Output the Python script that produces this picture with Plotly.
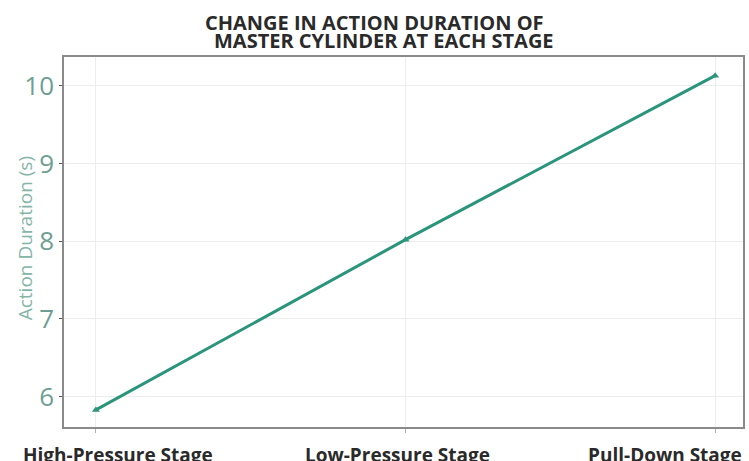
import plotly.graph_objects as go

stages = ["High-Pressure Stage", "Low-Pressure Stage", "Pull-Down Stage"]
durations = [5.83, 8.02, 10.13]
y_ticks = [6, 7, 8, 9, 10]
title_lines = ["CHANGE IN ACTION DURATION OF", "MASTER CYLINDER AT EACH STAGE"]
y_title = "Action Duration (s)"

# horizontal nudges of the category labels (pixels), as laid out in the reference
label_shifts = [22, -8, -50]

TEAL = "#2b957c"
fig = go.Figure()
fig.add_trace(go.Scatter(
    x=stages, y=durations, mode="lines+markers",
    line=dict(color=TEAL, width=3),
    marker=dict(symbol="triangle-up", size=7, color=TEAL),
    cliponaxis=False,
))

annotations = []
# title as two tightly spaced lines
annotations.append(dict(text=title_lines[0], xref="paper", yref="paper", x=0.457, y=1,
                        xanchor="center", yanchor="bottom", yshift=19, showarrow=False,
                        font=dict(family="Open Sans", size=20, color="#2a2a2a", weight="bold")))
annotations.append(dict(text=title_lines[1], xref="paper", yref="paper", x=0.472, y=1,
                        xanchor="center", yanchor="bottom", yshift=1, showarrow=False,
                        font=dict(family="Open Sans", size=20, color="#2a2a2a", weight="bold")))
for s, dx in zip(stages, label_shifts):
    annotations.append(dict(text=s, xref="x", yref="paper", x=s, y=0, xanchor="center",
                            yanchor="top", yshift=-13, xshift=dx, showarrow=False,
                            font=dict(family="Open Sans", size=19, color="#2a2a2a", weight="bold")))
annotations.append(dict(text=y_title, xref="paper", yref="paper", x=0, y=0.51,
                        xanchor="center", yanchor="middle", xshift=-39, textangle=-90,
                        showarrow=False,
                        font=dict(family="Open Sans", size=19, color="#84b5a7")))

fig.update_layout(
    width=749, height=461,
    margin=dict(l=64, r=6, t=57, b=34, autoexpand=False),
    paper_bgcolor="white", plot_bgcolor="white",
    showlegend=False,
    annotations=annotations,
)
fig.update_xaxes(
    range=[-0.103, 2.09], automargin=False,
    showticklabels=False,
    showgrid=True, gridcolor="#ededed", gridwidth=1,
    showline=True, linecolor="#8a8a8a", linewidth=1.5, mirror=True,
    ticks="outside", ticklen=4, tickcolor="#b0b0b0",
)
fig.update_yaxes(
    range=[5.61, 10.37], automargin=False,
    tickvals=y_ticks,
    showgrid=True, gridcolor="#ededed", gridwidth=1,
    showline=True, linecolor="#8a8a8a", linewidth=1.5, mirror=True,
    ticks="outside", ticklen=3, tickcolor="#555555",
    tickfont=dict(family="Open Sans", size=26, color="#6e9e92"),
    zeroline=False,
)
fig.write_html("out.html", config={"displayModeBar": False},
               post_script="document.body.style.margin='0';document.body.style.overflow='hidden';")
